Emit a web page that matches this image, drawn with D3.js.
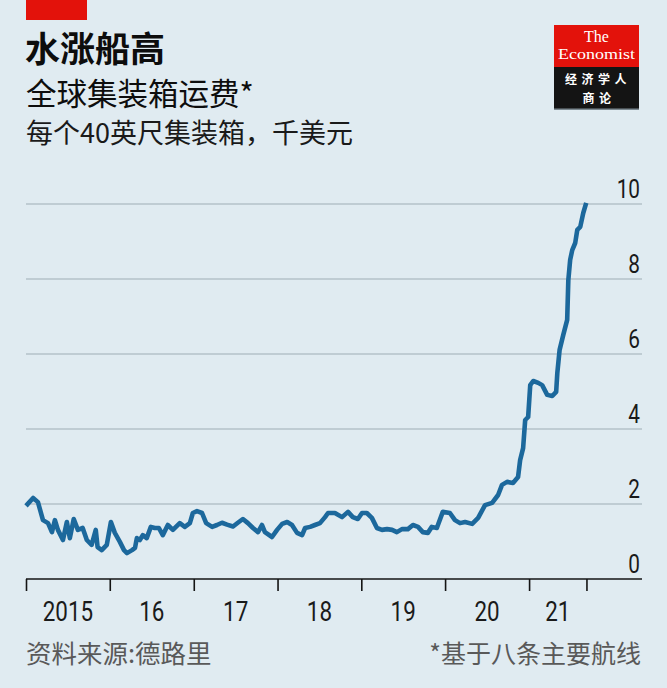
<!DOCTYPE html>
<html>
<head>
<meta charset="utf-8">
<script src="https://cdn.jsdelivr.net/npm/d3@7"></script>
<style>
  html, body { margin: 0; padding: 0; background: #e0ebf1; }
  svg { display: block; }
</style>
</head>
<body>
<svg id="chart" width="667" height="688"></svg>
<script>
// ---- data ----
const title = "水涨船高";
const subtitle = "全球集装箱运费*";
const unitLine = "每个40英尺集装箱，千美元";
const sourceText = "资料来源:德路里";
const noteText = "*基于八条主要航线";

const dates = [
  "2015-01-01","2015-02-01","2015-02-22","2015-03-16","2015-04-07","2015-04-24","2015-05-07","2015-05-20",
  "2015-06-11","2015-06-28","2015-07-11","2015-07-28","2015-08-15","2015-09-05","2015-09-23","2015-10-14",
  "2015-11-01","2015-11-09","2015-11-27","2015-12-19","2016-01-06","2016-01-23","2016-02-14","2016-03-03",
  "2016-03-16","2016-04-07","2016-04-20","2016-04-28","2016-05-11","2016-05-24","2016-06-10","2016-06-28",
  "2016-07-15","2016-08-02","2016-08-19","2016-09-10","2016-10-02","2016-11-01","2016-11-23","2016-12-15",
  "2016-12-28","2017-01-15","2017-02-06","2017-02-24","2017-03-22","2017-04-12","2017-05-04","2017-05-26",
  "2017-06-21","2017-07-12","2017-08-03","2017-08-25","2017-09-16","2017-10-08","2017-10-25","2017-11-07",
  "2017-12-08","2017-12-30","2018-01-21","2018-02-12","2018-03-05","2018-03-27","2018-04-18","2018-05-01",
  "2018-05-23","2018-06-13","2018-07-05","2018-07-27","2018-08-09","2018-09-08","2018-10-09","2018-11-04",
  "2018-11-25","2018-12-17","2019-01-04","2019-01-25","2019-02-16","2019-03-10","2019-04-01","2019-04-23",
  "2019-05-15","2019-06-05","2019-06-27","2019-07-23","2019-08-14","2019-09-05","2019-09-26","2019-10-18",
  "2019-11-04","2019-11-26","2019-12-22","2020-01-22","2020-02-13","2020-03-06","2020-03-28","2020-04-28",
  "2020-05-24","2020-06-23","2020-07-24","2020-08-19","2020-09-05","2020-09-27","2020-10-23","2020-11-14",
  "2020-11-23","2020-12-06","2020-12-15","2020-12-28","2021-01-06","2021-01-19","2021-02-10","2021-02-27",
  "2021-03-21","2021-04-12","2021-04-29","2021-05-04","2021-05-09","2021-05-14","2021-05-30","2021-06-16",
  "2021-06-21","2021-06-29","2021-07-08","2021-07-21","2021-07-30","2021-08-12","2021-08-25","2021-09-07"
];
const freight = [
  1.95,2.16,2.05,1.57,1.49,1.25,1.57,1.31,
  1.04,1.52,1.09,1.60,1.31,1.36,1.04,0.91,
  1.31,0.85,0.77,0.91,1.52,1.23,0.99,0.77,
  0.69,0.77,0.83,1.09,1.04,1.17,1.09,1.39,
  1.36,1.36,1.17,1.44,1.31,1.49,1.39,1.49,
  1.76,1.81,1.76,1.49,1.39,1.44,1.50,1.45,
  1.40,1.50,1.60,1.49,1.36,1.25,1.44,1.25,
  1.12,1.31,1.47,1.52,1.44,1.23,1.17,1.36,
  1.39,1.44,1.49,1.65,1.76,1.76,1.65,1.79,
  1.65,1.60,1.76,1.76,1.63,1.36,1.31,1.33,
  1.31,1.25,1.33,1.33,1.44,1.39,1.25,1.23,
  1.39,1.36,1.79,1.76,1.57,1.49,1.52,1.47,
  1.63,1.97,2.03,2.24,2.51,2.59,2.56,2.72,
  3.17,3.49,4.24,4.32,5.17,5.28,5.23,5.17,
  4.91,4.88,4.99,5.49,5.80,6.11,6.51,6.91,
  7.97,8.51,8.77,8.96,9.31,9.39,9.76,10.03
];
const yTicks = [0, 2, 4, 6, 8, 10];
const yearTicks = ["2015-01-01","2016-01-01","2017-01-01","2018-01-01","2019-01-01","2020-01-01","2021-01-01","2021-09-08"];
const yearLabels = ["2015","16","17","18","19","20","21"];
const xDomain = ["2015-01-01", "2022-05-08"];

// ---- drawing ----
const parse = d3.timeParse("%Y-%m-%d");
const data = dates.map((d, i) => ({ date: parse(d), value: freight[i] }));

const svg = d3.select("#chart");
const W = 667, H = 688;
const bg = "#e0ebf1";
const cjk = "'Noto Sans CJK SC', 'Noto Sans', sans-serif";
const serif = "'Liberation Serif', 'DejaVu Serif', serif";
const narrow = "'Liberation Sans Narrow', 'Roboto', 'Liberation Sans', sans-serif";
const squeeze = 0.8;

svg.append("rect").attr("width", W).attr("height", H).attr("fill", bg);

// red tag
svg.append("rect").attr("x", 26).attr("y", 0).attr("width", 61).attr("height", 20).attr("fill", "#e3120b");

// titles
svg.append("text").attr("x", 25).attr("y", 62).text(title)
  .attr("font-family", cjk).attr("font-weight", 700).attr("font-size", 35).attr("fill", "#0d0d0d");
svg.append("text").attr("x", 26).attr("y", 105).text(subtitle)
  .attr("font-family", cjk).attr("font-size", 30.5).attr("fill", "#0d0d0d");
svg.append("text").attr("x", 26).attr("y", 143).text(unitLine)
  .attr("font-family", cjk).attr("font-size", 27).attr("fill", "#1a1a1a");

// logo
const logo = svg.append("g");
logo.append("rect").attr("x", 554).attr("y", 26).attr("width", 85).attr("height", 84).attr("fill", "#7d8a92");
logo.append("rect").attr("x", 554).attr("y", 25).attr("width", 85).attr("height", 42).attr("fill", "#e3120b");
logo.append("rect").attr("x", 554).attr("y", 67).attr("width", 85).attr("height", 41.5).attr("fill", "#141414");
logo.append("text").attr("x", 596.5).attr("y", 41.5).attr("text-anchor", "middle").text("The")
  .attr("font-family", serif).attr("font-size", 16).attr("fill", "#fff");
logo.append("text").attr("x", 596.5).attr("y", 59).attr("text-anchor", "middle").text("Economist")
  .attr("font-family", serif).attr("font-size", 15.5)
  .attr("textLength", 77).attr("lengthAdjust", "spacingAndGlyphs").attr("fill", "#fff");
logo.append("text").attr("x", 598).attr("y", 84).attr("text-anchor", "middle").text("经济学人")
  .attr("font-family", cjk).attr("font-weight", 700).attr("font-size", 12).attr("letter-spacing", 4.5).attr("fill", "#fff");
logo.append("text").attr("x", 599).attr("y", 102.5).attr("text-anchor", "middle").text("商论")
  .attr("font-family", cjk).attr("font-weight", 700).attr("font-size", 12).attr("letter-spacing", 4.5).attr("fill", "#fff");

// scales
const x = d3.scaleTime().domain(xDomain.map(parse)).range([26, 642]);
const y = d3.scaleLinear().domain([0, 10]).range([579, 204]);

// gridlines
svg.append("g").selectAll("line").data(yTicks.filter(d => d > 0)).join("line")
  .attr("x1", 26).attr("x2", 642)
  .attr("y1", d => y(d)).attr("y2", d => y(d))
  .attr("stroke", "#b4c2c9").attr("stroke-width", 1.6);

// y labels (condensed)
svg.append("g").selectAll("text").data(yTicks).join("text")
  .attr("transform", d => `translate(640,${y(d) - 6}) scale(${squeeze},1)`)
  .attr("text-anchor", "end")
  .attr("font-family", narrow).attr("font-size", 26).attr("fill", "#1a1a1a")
  .text(d => d);

// x axis
const tickDates = yearTicks.map(parse);
const xAxis = d3.axisBottom(x).tickValues(tickDates).tickSize(12).tickFormat("");
const gx = svg.append("g").attr("transform", "translate(0,579)").call(xAxis);
gx.select(".domain").attr("d", "M26,0H642").attr("stroke", "#141414").attr("stroke-width", 1.6);
gx.selectAll(".tick line").attr("stroke", "#141414").attr("stroke-width", 1.6);

// year labels centered between ticks (condensed)
svg.append("g").selectAll("text").data(yearLabels).join("text")
  .attr("transform", (d, i) => `translate(${(x(tickDates[i]) + x(tickDates[i + 1])) / 2},621) scale(${squeeze},1)`)
  .attr("text-anchor", "middle")
  .attr("font-family", narrow).attr("font-size", 28).attr("fill", "#1a1a1a")
  .text(d => d);

// line
const line = d3.line().x(d => x(d.date)).y(d => y(d.value));
svg.append("path").datum(data)
  .attr("d", line)
  .attr("fill", "none")
  .attr("stroke", "#1c689c")
  .attr("stroke-width", 4.6)
  .attr("stroke-linejoin", "round")
  .attr("stroke-linecap", "butt");

// footer
svg.append("text").attr("x", 26).attr("y", 663).text(sourceText)
  .attr("font-family", cjk).attr("font-size", 25.5).attr("fill", "#595959");
svg.append("text").attr("x", 641).attr("y", 663).attr("text-anchor", "end").text(noteText)
  .attr("font-family", cjk).attr("font-size", 25).attr("fill", "#595959");
</script>
</body>
</html>
